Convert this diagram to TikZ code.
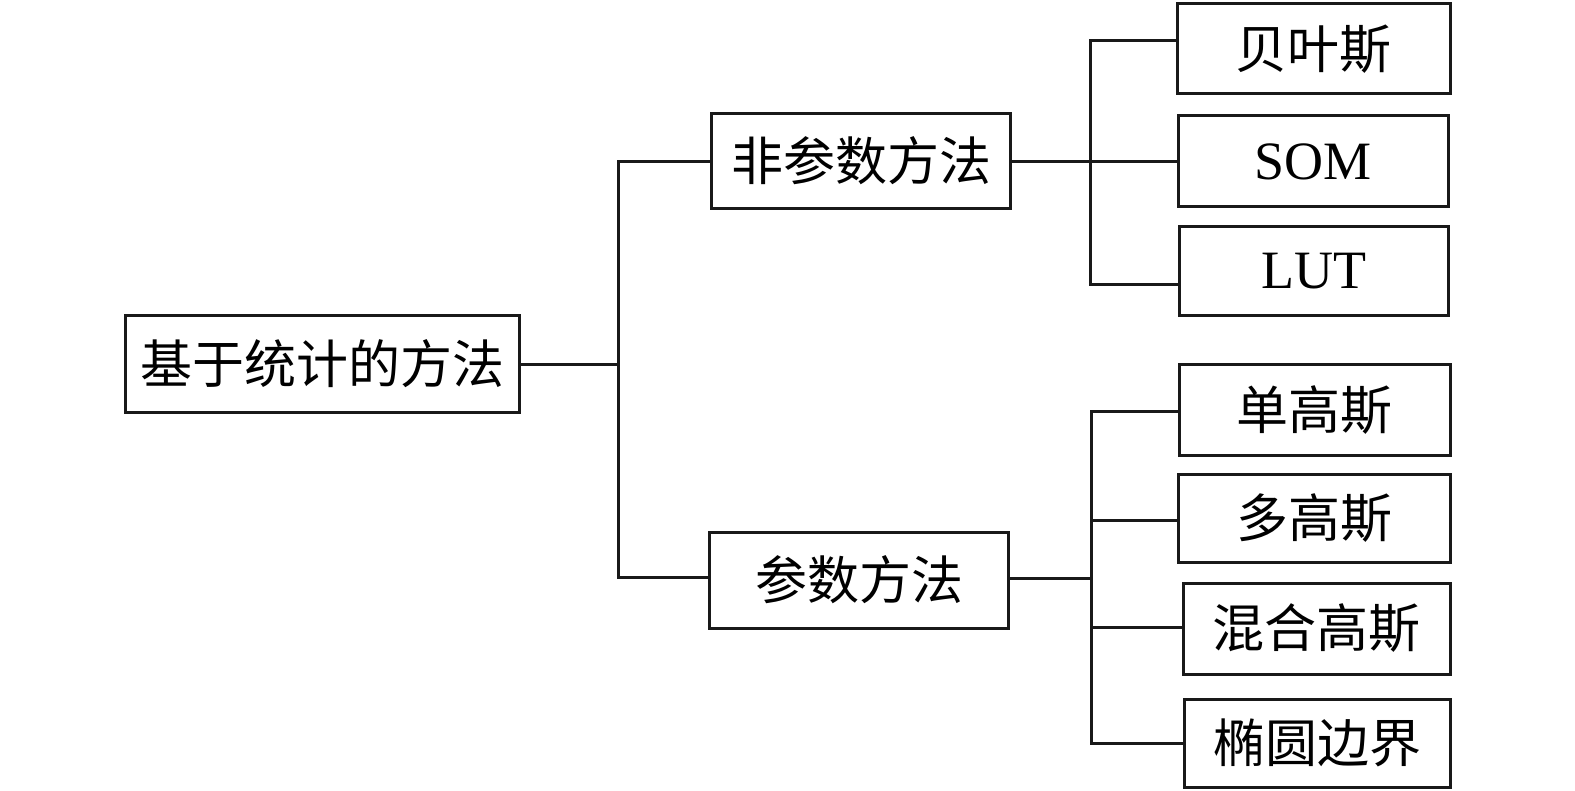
\documentclass[tikz,border=0pt]{standalone}
\usepackage{fontspec}
\setmainfont{Liberation Serif}
\newfontfamily\cjk{Noto Sans CJK SC}
\begin{document}
\begin{tikzpicture}[x=1pt,y=-1pt,
  box/.style={draw=black!90, line width=3pt, inner sep=0pt, align=center,
    font=\cjk\fontsize{52}{52}\selectfont},
  latin/.style={font=\fontsize{54}{54}\selectfont},
  conn/.style={draw=black!90, line width=3pt}]
\useasboundingbox (0,0) rectangle (1575,791);
\fill[white] (0,0) rectangle (1575,791);
% root and middle nodes
\node[box, minimum width=394pt, minimum height=97pt] (root) at (322,364) {基于统计的方法};
\node[box, minimum width=299pt, minimum height=95pt] (np) at (861,161) {非参数方法};
\node[box, minimum width=299pt, minimum height=96pt] (pm) at (859,580) {参数方法};
% leaves
\node[box, minimum width=273pt, minimum height=90pt] (bay) at (1313.5,49) {贝叶斯};
\node[box, latin, minimum width=270pt, minimum height=91pt] (som) at (1313,161.5) {SOM};
\node[box, latin, minimum width=269pt, minimum height=89pt] (lut) at (1313.5,271.5) {LUT};
\node[box, minimum width=271pt, minimum height=91pt] (dan) at (1314.5,410.5) {单高斯};
\node[box, minimum width=272pt, minimum height=87pt] (duo) at (1314,518.5) {多高斯};
\node[box, minimum width=267pt, minimum height=91pt] (hun) at (1316.5,628.5) {混合高斯};
\node[box, minimum width=266pt, minimum height=88pt] (tuo) at (1317,743) {椭圆边界};
% junction coordinates
\coordinate (r1) at (618,365);
\coordinate (r2) at (618,161.5);
\coordinate (r3) at (618,577.5);
\coordinate (a0) at (1090,161.5);
\coordinate (a1) at (1090,41);
\coordinate (a3) at (1090,285);
\coordinate (b0) at (1091,578);
\coordinate (b1) at (1091,412);
\coordinate (b2) at (1091,520);
\coordinate (b3) at (1091,627);
\coordinate (b4) at (1091,743);
% root connectors
\draw[conn] (root.east |- r1) -- (r1);
\draw[conn] (pm.west |- r3) -- (r3) -- (r2) -- (np.west |- r2);
% non-parametric branch
\draw[conn] (np.east |- a0) -- (som.west |- a0);
\draw[conn] (bay.west |- a1) -- (a1) -- (a3) -- (lut.west |- a3);
% parametric branch
\draw[conn] (pm.east |- b0) -- (b0);
\draw[conn] (dan.west |- b1) -- (b1) -- (b4) -- (tuo.west |- b4);
\draw[conn] (b2) -- (duo.west |- b2);
\draw[conn] (b3) -- (hun.west |- b3);
\end{tikzpicture}
\end{document}
